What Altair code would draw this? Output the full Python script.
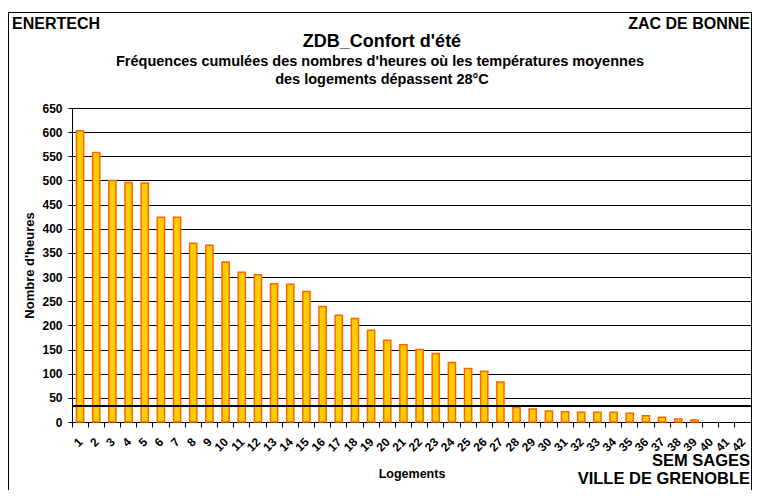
import altair as alt
import pandas as pd

# ---- data ----
logements = [str(i) for i in range(1, 43)]
heures = [603, 558, 500, 496, 495, 424, 424, 370, 366, 331,
          310, 305, 286, 285, 270, 239, 221, 214, 190, 169,
          160, 150, 142, 123, 111, 105, 83, 30, 27, 23,
          21, 20, 20, 20, 18, 13, 10, 6, 4, 0, 0, 0]
y_ticks = list(range(0, 651, 50))
seuil = [33]

df = pd.DataFrame({"logement": logements, "heures": heures})
df_seuil = pd.DataFrame({"heures": seuil})

FONT = "Liberation Sans"
W, H = 679, 314

xenc = alt.X(
    "logement:N",
    sort=logements,
    scale=alt.Scale(domain=logements, paddingInner=0, paddingOuter=0),
    axis=alt.Axis(
        title="Logements", labelAngle=-45, bandPosition=0,
        labelOffset=-3, labelAlign="right", labelBaseline="top",
        labelPadding=9, tickSize=5, tickColor="black", domainColor="black",
        labelFont=FONT, labelFontSize=12, labelFontWeight="bold", labelColor="black",
        labelOverlap=False, grid=False,
        titleFont=FONT, titleFontSize=12.5, titleFontWeight="bold", titleColor="black",
        titleY=55, titleBaseline="alphabetic",
    ),
)

yaxis = alt.Axis(
    values=y_ticks, title="Nombre d'heures", grid=True, gridColor="black",
    gridOpacity=1, gridWidth=1, tickSize=4, tickColor="black", domainColor="black",
    labelPadding=6, labelFont=FONT, labelFontSize=12, labelFontWeight="bold",
    labelColor="black",
    titleFont=FONT, titleFontSize=13, titleFontWeight="bold", titleColor="black",
    titleAngle=270, titleX=-39, titleY=H / 2, titleAlign="center",
    titleBaseline="alphabetic",
)
yscale = alt.Scale(domain=[0, 650], nice=False, zero=True)

bars = alt.Chart(df).transform_filter("datum.heures > 0").mark_bar(
    size=7.2, fill="#FFCC00", stroke="#FF6600", strokeWidth=1.5
).encode(
    x=xenc,
    y=alt.Y("heures:Q", scale=yscale, axis=yaxis),
)

rule = alt.Chart(df_seuil).mark_rule(color="black", strokeWidth=2).encode(
    y=alt.Y("heures:Q", scale=yscale, axis=yaxis)
)

one = alt.Data(values=[{}])

frame = alt.Chart(one).mark_rect(
    fill="white", fillOpacity=0, stroke="black", strokeWidth=1
).encode(
    x=alt.value(-63.5), x2=alt.value(679.5),
    y=alt.value(-95.5), y2=alt.value(420),
)


def txt(text, x, y, size, align):
    return alt.Chart(one).mark_text(
        text=text, font=FONT, fontSize=size, fontWeight="bold",
        align=align, baseline="alphabetic", color="black",
    ).encode(x=alt.value(x), y=alt.value(y))


texts = [
    txt("ENERTECH", -60, -79, 16, "left"),
    txt("ZAC DE BONNE", 678, -79, 16, "right"),
    txt("ZDB_Confort d'été", 310, -61.5, 18, "center"),
    txt("Fréquences cumulées des nombres d'heures où les températures moyennes",
        308, -42.5, 14.5, "center"),
    txt("des logements dépassent 28°C", 310, -24, 14.5, "center"),
    txt("SEM SAGES", 678, 358, 16.5, "right"),
    txt("VILLE DE GRENOBLE", 678, 376, 16.5, "right"),
]

chart = alt.layer(frame, bars, rule, *texts).properties(
    width=W, height=H,
    autosize=alt.AutoSizeParams(type="none"),
    padding={"left": 64, "top": 100, "right": 1, "bottom": 68},
    background="white",
).configure_view(stroke="#222", strokeWidth=1)

chart.save("out.html", embed_options={"renderer": "svg", "actions": False})
